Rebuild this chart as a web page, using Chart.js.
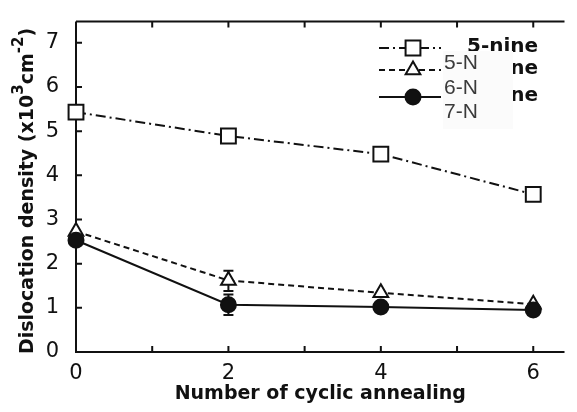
<!DOCTYPE html>
<html>
<head>
<meta charset="utf-8">
<script src="https://cdn.jsdelivr.net/npm/chart.js@4/dist/chart.umd.min.js"></script>
<style>
  html, body { margin: 0; padding: 0; background: #fff; }
  #wrap { width: 577px; height: 412px; }
</style>
</head>
<body>
<div id="wrap"><canvas id="c" width="577" height="412"></canvas></div>
<script>
// Dislocation density vs. number of cyclic annealing, three purities
const cycles = [0, 2, 4, 6];
const fiveNine = [5.43, 4.89, 4.48, 3.57];
const sixNine = [2.73, 1.62, 1.34, 1.08];
const sevenNine = [2.53, 1.07, 1.02, 0.95];
// error ranges [low, high]; null where none is shown
const sixNineErr = [null, [1.38, 1.84], null, null];
const sevenNineErr = [null, [0.84, 1.30], null, null];
const xTickLabels = ['0', '', '2', '', '4', '', '6'];
const yTickLabels = ['0', '1', '2', '3', '4', '5', '6', '7'];
const seriesNames = ['5-nine', '6-nine', '7-nine'];
const overlayNames = ['5-N', '6-N', '7-N'];

const FONT = '"DejaVu Sans", sans-serif';
const INK = '#111';

const styles = [
  { dash: [10, 4, 2, 4], pointStyle: 'rect', radius: 10.5, fill: '#fff' },
  { dash: [6, 4], pointStyle: 'triangle', radius: 8.5, fill: '#fff' },
  { dash: [], pointStyle: 'circle', radius: 7.5, fill: INK }
];
const seriesValues = [fiveNine, sixNine, sevenNine];

const datasets = seriesValues.map((vals, i) => ({
  label: seriesNames[i],
  data: cycles.map((c, k) => ({ x: c, y: vals[k] })),
  borderColor: INK,
  borderWidth: 2,
  borderDash: styles[i].dash,
  pointStyle: styles[i].pointStyle,
  pointRadius: styles[i].radius,
  pointHoverRadius: styles[i].radius,
  pointBackgroundColor: styles[i].fill,
  pointBorderColor: INK,
  pointBorderWidth: 2,
  fill: false,
  tension: 0,
  clip: false,
  order: 2 - i
}));

// frame, inward ticks and error bars
const framePlugin = {
  id: 'frame',
  beforeDatasetsDraw(chart) {
    const { ctx, chartArea: a, scales: { x, y } } = chart;
    ctx.save();
    ctx.strokeStyle = INK;
    ctx.lineWidth = 2;
    ctx.setLineDash([]);
    ctx.beginPath();
    ctx.moveTo(a.left, a.top); ctx.lineTo(a.left, a.bottom); ctx.lineTo(a.right, a.bottom);
    ctx.moveTo(a.left, a.top); ctx.lineTo(a.right, a.top);
    for (let v = 0; v <= 7; v++) {
      const py = y.getPixelForValue(v);
      ctx.moveTo(a.left, py); ctx.lineTo(a.left + 6, py);
    }
    for (let v = 1; v <= 6; v++) {
      const px = x.getPixelForValue(v);
      ctx.moveTo(px, a.bottom); ctx.lineTo(px, a.bottom - 6);
      ctx.moveTo(px, a.top); ctx.lineTo(px, a.top + 6);
    }
    ctx.stroke();
    // error bars
    [sixNineErr, sevenNineErr].forEach(errs => {
      errs.forEach((e, k) => {
        if (!e) return;
        const px = x.getPixelForValue(cycles[k]);
        const lo = y.getPixelForValue(e[0]);
        const hi = y.getPixelForValue(e[1]);
        ctx.beginPath();
        ctx.moveTo(px, lo); ctx.lineTo(px, hi);
        ctx.moveTo(px - 5, lo); ctx.lineTo(px + 5, lo);
        ctx.moveTo(px - 5, hi); ctx.lineTo(px + 5, hi);
        ctx.stroke();
      });
    });
    ctx.restore();
  },
  afterDraw(chart) {
    const { ctx } = chart;
    ctx.save();
    // y-axis title with superscripts
    ctx.translate(28, 191);
    ctx.rotate(-Math.PI / 2);
    ctx.fillStyle = INK;
    ctx.textBaseline = 'middle';
    const parts = [
      ['Dislocation density (x10', 19, 0],
      ['3', 15, -9],
      ['cm', 19, 0],
      ['-2', 15, -9],
      [')', 19, 0]
    ];
    let total = 0;
    parts.forEach(p => { ctx.font = 'bold ' + p[1] + 'px ' + FONT; total += ctx.measureText(p[0]).width; });
    let cx = -total / 2;
    parts.forEach(p => {
      ctx.font = 'bold ' + p[1] + 'px ' + FONT;
      ctx.fillText(p[0], cx, p[2]);
      cx += ctx.measureText(p[0]).width;
    });
    ctx.restore();

    // legend
    ctx.save();
    const rowsY = [48, 70, 97];
    ctx.strokeStyle = INK;
    ctx.lineWidth = 2;
    rowsY.forEach((ry, i) => {
      ctx.setLineDash(styles[i].dash);
      ctx.beginPath();
      ctx.moveTo(379, ry); ctx.lineTo(441, ry);
      ctx.stroke();
      ctx.setLineDash([]);
      ctx.fillStyle = styles[i].fill;
      ctx.strokeStyle = INK;
      ctx.lineWidth = 2;
      Chart.helpers.drawPoint(ctx, {
        pointStyle: styles[i].pointStyle, rotation: 0, borderWidth: 2, radius: styles[i].radius
      }, 413, ry);
    });
    ctx.fillStyle = INK;
    ctx.font = 'bold 20px ' + FONT;
    ctx.textBaseline = 'middle';
    seriesNames.forEach((n, i) => ctx.fillText(n, 467, rowsY[i] - 1));
    // relabel panel placed over the legend text
    ctx.fillStyle = '#fbfbfb';
    ctx.fillRect(443, 51, 70, 78);
    ctx.fillStyle = '#3a3a3a';
    ctx.font = '21px "Liberation Sans", Arial, sans-serif';
    const oy = [63, 88, 112];
    overlayNames.forEach((n, i) => ctx.fillText(n, 444, oy[i]));
    ctx.restore();
  }
};

new Chart(document.getElementById('c'), {
  type: 'line',
  data: { datasets },
  options: {
    responsive: false,
    animation: false,
    devicePixelRatio: 1,
    layout: { padding: { top: 14, right: 0, left: 0, bottom: 0 } },
    plugins: { legend: { display: false }, tooltip: { enabled: false } },
    scales: {
      x: {
        type: 'linear',
        min: 0,
        max: 6.41,
        grid: { display: false },
        border: { display: false },
        afterFit(s) { s.height = 60; },
        afterBuildTicks(s) { s.ticks = [0, 1, 2, 3, 4, 5, 6].map(v => ({ value: v })); },
        ticks: {
          color: INK,
          font: { family: FONT, size: 21 },
          padding: 1,
          maxRotation: 0,
          autoSkip: false,
          callback: v => xTickLabels[v] ?? ''
        },
        title: {
          display: true,
          text: 'Number of cyclic annealing',
          color: INK,
          font: { family: FONT, size: 19, weight: 'bold' },
          padding: { top: 0, bottom: 7 }
        }
      },
      y: {
        type: 'linear',
        min: 0,
        max: 7.48,
        grid: { display: false },
        border: { display: false },
        afterFit(s) { s.width = 76; },
        afterBuildTicks(s) { s.ticks = [0, 1, 2, 3, 4, 5, 6, 7].map(v => ({ value: v })); },
        ticks: {
          color: INK,
          font: { family: FONT, size: 21 },
          padding: 9,
          callback: v => yTickLabels[v] ?? ''
        }
      }
    }
  },
  plugins: [framePlugin]
});
</script>
</body>
</html>
